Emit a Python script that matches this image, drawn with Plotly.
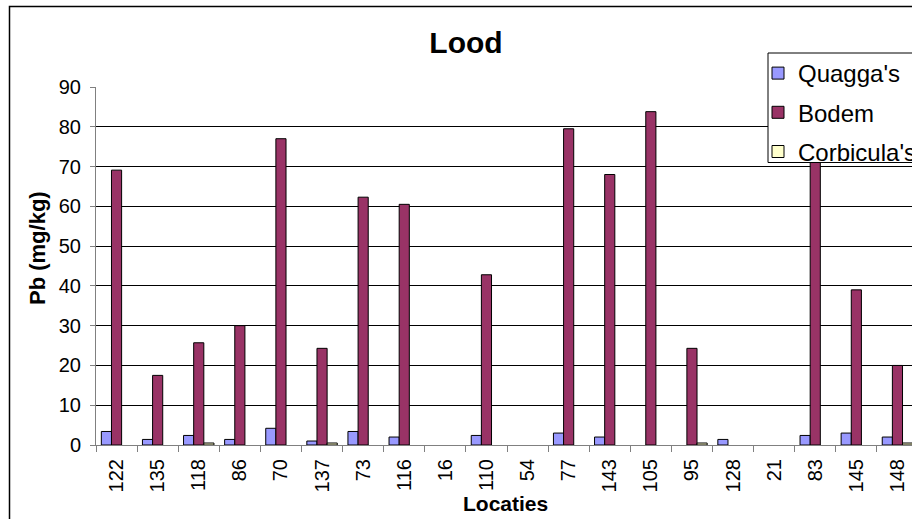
import plotly.graph_objects as go

categories = ["122", "135", "118", "86", "70", "137", "73", "116", "16", "110",
              "54", "77", "143", "105", "95", "128", "21", "83", "145", "148"]
quagga = [3.4, 1.4, 2.4, 1.4, 4.2, 1.0, 3.4, 2.0, None, 2.4,
          None, 3.0, 2.0, None, None, 1.4, None, 2.4, 3.0, 2.0]
bodem = [69.1, 17.5, 25.7, 30.0, 77.0, 24.3, 62.3, 60.5, None, 42.8,
         None, 79.5, 68.0, 83.8, 24.3, None, None, 72.0, 39.0, 20.0]
corbicula = [None, None, 0.5, None, None, 0.5, None, None, None, None,
             None, None, None, None, 0.5, None, None, None, None, 0.5]
y_ticks = [0, 10, 20, 30, 40, 50, 60, 70, 80, 90]

W, H = 912, 519
L, T, B = 96, 87, 445
PW = W - L
PH = B - T

def px(x):
    return (x - L) / PW

def py(y):
    return (B - y) / PH

FONT = "Liberation Sans, Arial, sans-serif"

fig = go.Figure()
for name, vals, col in [("Quagga's", quagga, "#9999FF"),
                        ("Bodem", bodem, "#993366"),
                        ("Corbicula's", corbicula, "#FFFFCC")]:
    fig.add_trace(go.Bar(x=categories, y=vals, name=name, legendgroup=name,
                         marker=dict(color=col, line=dict(color="black", width=1))))

fig.update_layout(
    width=W, height=H,
    margin=dict(l=L, r=0, t=T, b=H - B, pad=0, autoexpand=False),
    paper_bgcolor="white", plot_bgcolor="white",
    barmode="group", bargap=0.26, bargroupgap=0,
    font=dict(family=FONT, color="black", size=20),
    title=dict(text="<b>Lood</b>", x=466 / W, xref="container", xanchor="center",
               y=1 - 42 / H, yref="container", yanchor="middle",
               font=dict(family=FONT, size=30, color="black")),
    showlegend=True,
    legend=dict(x=px(758), y=py(51), xanchor="left", yanchor="top",
                bgcolor="rgba(0,0,0,0)", borderwidth=0,
                font=dict(family=FONT, size=24, color="black"),
                traceorder="grouped", tracegroupgap=5, itemwidth=30),
    xaxis=dict(type="category", range=[-0.5, -0.5 + PW / 41.1],
               showline=True, linecolor="#808080", linewidth=1,
               ticks="outside", tickson="boundaries", ticklen=6, tickcolor="#808080",
               tickangle=-90, tickfont=dict(family=FONT, size=20, color="black"),
               ticklabelstandoff=5,
               showgrid=False, fixedrange=True),
    yaxis=dict(range=[0, 90], tickvals=y_ticks, ticktext=[str(v) for v in y_ticks],
               showline=True, linecolor="#808080", linewidth=1,
               ticks="outside", ticklen=5, tickcolor="#808080",
               tickfont=dict(family=FONT, size=20, color="black"),
               ticklabelstandoff=5,
               showgrid=True, gridcolor="black", gridwidth=1, zeroline=False),
    shapes=[
        dict(type="rect", xref="paper", yref="paper",
             x0=px(9.5), x1=px(940), y0=py(6.5), y1=py(540),
             line=dict(color="black", width=1.5), fillcolor="rgba(0,0,0,0)", layer="below"),
        dict(type="rect", xref="paper", yref="paper",
             x0=px(768), x1=px(940), y0=py(53), y1=py(162.5),
             line=dict(color="black", width=1), fillcolor="white", layer="above"),
    ],
    annotations=[
        dict(text="<b>Pb (mg/kg)</b>", textangle=-90, xref="paper", yref="paper",
             x=px(37), y=py(248), xanchor="center", yanchor="middle", showarrow=False,
             font=dict(family=FONT, size=22, color="black")),
        dict(text="<b>Locaties</b>", xref="paper", yref="paper",
             x=px(505), y=py(503), xanchor="center", yanchor="middle", showarrow=False,
             font=dict(family=FONT, size=21, color="black")),
    ],
)

fig.write_html("out.html", config={"displayModeBar": False, "staticPlot": True},
               post_script="document.body.style.margin='0';document.body.style.overflow='hidden';")
